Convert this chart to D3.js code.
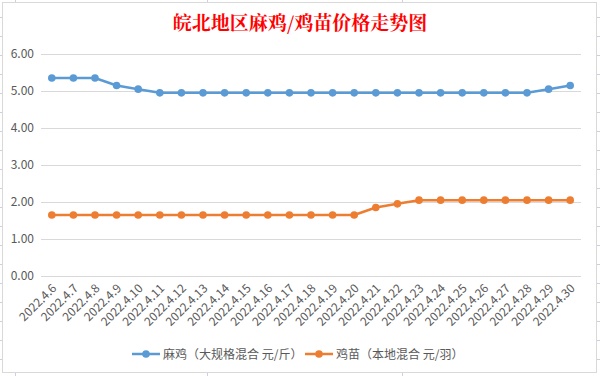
<!DOCTYPE html>
<html><head><meta charset="utf-8">
<script src="https://cdn.jsdelivr.net/npm/d3@7"></script>
<style>body{margin:0;background:#fff;}svg{display:block;}</style>
</head><body>
<svg id="c" width="600" height="376"></svg>
<script>
const title = "皖北地区麻鸡/鸡苗价格走势图";
const categories = ["2022.4.6","2022.4.7","2022.4.8","2022.4.9","2022.4.10","2022.4.11","2022.4.12","2022.4.13","2022.4.14","2022.4.15","2022.4.16","2022.4.17","2022.4.18","2022.4.19","2022.4.20","2022.4.21","2022.4.22","2022.4.23","2022.4.24","2022.4.25","2022.4.26","2022.4.27","2022.4.28","2022.4.29","2022.4.30"];
const seriesNames = ["麻鸡（大规格混合 元/斤）","鸡苗（本地混合 元/羽）"];
const majiValues = [5.35,5.35,5.35,5.15,5.05,4.95,4.95,4.95,4.95,4.95,4.95,4.95,4.95,4.95,4.95,4.95,4.95,4.95,4.95,4.95,4.95,4.95,4.95,5.05,5.15];
const jimiaoValues = [1.65,1.65,1.65,1.65,1.65,1.65,1.65,1.65,1.65,1.65,1.65,1.65,1.65,1.65,1.65,1.85,1.95,2.05,2.05,2.05,2.05,2.05,2.05,2.05,2.05];
const yTicks = [0,1,2,3,4,5,6];
const colors = ["#5b9bd5","#ed7d31"];

(function(){
const svg = d3.select("#c");
const font = "'Noto Sans CJK SC','Microsoft YaHei',sans-serif";

// spreadsheet cell borders outside the chart
const cellColor = "#d0d0dc";
[15,207,402].forEach(xx=>{
  svg.append("line").attr("x1",xx+0.5).attr("x2",xx+0.5).attr("y1",0).attr("y2",2).attr("stroke",cellColor);
  svg.append("line").attr("x1",xx+0.5).attr("x2",xx+0.5).attr("y1",373).attr("y2",376).attr("stroke",cellColor);
});
d3.range(17,376,19).forEach(yy=>{
  svg.append("line").attr("x1",0).attr("x2",2).attr("y1",yy+0.5).attr("y2",yy+0.5).attr("stroke",cellColor);
  svg.append("line").attr("x1",597).attr("x2",600).attr("y1",yy+0.5).attr("y2",yy+0.5).attr("stroke",cellColor);
});

// chart frame
svg.append("rect").attr("x",2.5).attr("y",2.5).attr("width",594).attr("height",370)
  .attr("fill","#fff").attr("stroke","#d9d9d9");

// title
svg.append("text").attr("x",300).attr("y",30).attr("text-anchor","middle")
  .attr("fill","#ff0000").attr("font-family","'Noto Serif CJK SC','Noto Sans CJK SC',serif")
  .attr("font-weight","bold").attr("font-size","19px").text(title);

const pL = 41, pR = 581, pT = 54, pB = 276;
const x = d3.scalePoint().domain(categories).range([pL, pR]).padding(0.5);
const y = d3.scaleLinear().domain([0,6]).range([pB, pT]);

// gridlines
const yAxis = d3.axisLeft(y).tickValues(yTicks).tickFormat(d3.format(".2f")).tickSize(-(pR-pL)).tickPadding(7);
const ga = svg.append("g").attr("transform",`translate(${pL},0)`).call(yAxis);
ga.select(".domain").remove();
ga.selectAll(".tick line").attr("stroke","#d9d9d9").attr("stroke-width",1);
ga.selectAll(".tick text").attr("fill","#595959").attr("font-size","12px").attr("font-family",font);

// x axis labels
const xAxis = d3.axisBottom(x).tickSize(0).tickPadding(0);
const gx = svg.append("g").attr("transform",`translate(0,${pB})`).call(xAxis);
gx.select(".domain").remove();
gx.selectAll(".tick text")
  .attr("fill","#595959").attr("font-size","12px").attr("font-family",font)
  .attr("text-anchor","end").attr("dy",0).attr("y",0)
  .attr("transform","translate(5,13) rotate(-45)");

// series
const series = [majiValues, jimiaoValues];
const line = d3.line().x((d,i)=>x(categories[i])).y(d=>y(d));
series.forEach((vals,si)=>{
  svg.append("path").datum(vals).attr("d",line).attr("fill","none")
    .attr("stroke",colors[si]).attr("stroke-width",2.5).attr("stroke-linejoin","round");
  svg.append("g").selectAll("circle").data(vals).join("circle")
    .attr("cx",(d,i)=>x(categories[i])).attr("cy",d=>y(d)).attr("r",3.8)
    .attr("fill",colors[si]);
});

// legend
const lg = svg.append("g").attr("font-family",font).attr("font-size","12px");
const legendX = [132, 305];
seriesNames.forEach((n,i)=>{
  const lx = legendX[i], ly = 354;
  lg.append("line").attr("x1",lx).attr("x2",lx+28).attr("y1",ly).attr("y2",ly)
    .attr("stroke",colors[i]).attr("stroke-width",2.5);
  lg.append("circle").attr("cx",lx+14).attr("cy",ly).attr("r",3.8).attr("fill",colors[i]);
  lg.append("text").attr("x",lx+31).attr("y",ly+4.5).attr("fill","#595959").text(n);
});
})();
</script>
</body></html>
